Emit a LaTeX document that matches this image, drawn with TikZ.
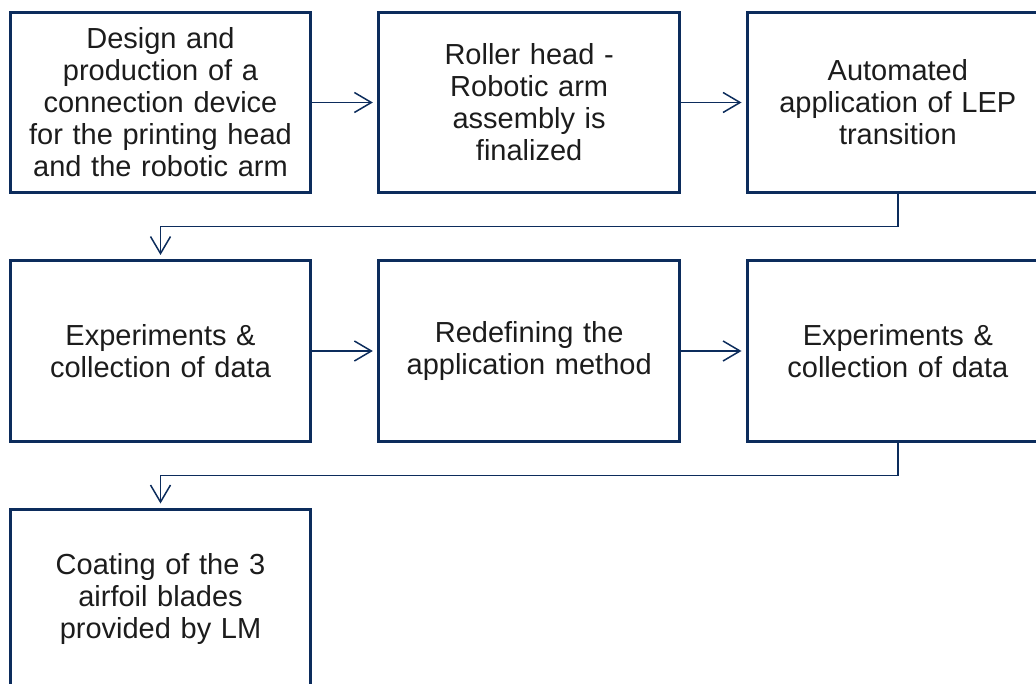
\documentclass[tikz,border=0pt]{standalone}
\usepackage{fontspec}
\setmainfont{Liberation Sans}
\usetikzlibrary{shapes,arrows,arrows.meta,positioning,calc}
\definecolor{navy}{RGB}{12,44,92}
\definecolor{ink}{RGB}{28,28,28}
\begin{document}
\begin{tikzpicture}
\tikzstyle{stepbox}=[draw=navy,line width=3pt,outer sep=0pt,minimum width=300pt,minimum height=180pt,text width=294pt,align=center,text=ink,font=\fontsize{29}{32}\selectfont]
\tikzstyle{flow}=[draw=navy,line width=1.5pt,-{Straight Barb[length=17pt,width=20pt,line width=1.5pt]},shorten >=6pt]

\useasboundingbox (0,0) rectangle (1036pt,-684pt);

\node [stepbox] (design) at (160.5pt,-102.5pt) {Design and\\production of a\\connection device\\for the printing head\\and the robotic arm};
\node [stepbox, right=68pt of design] (roller) {Roller head -\\Robotic arm\\assembly is\\finalized};
\node [stepbox, right=68pt of roller] (auto) {Automated\\application of LEP\\transition};

\node [stepbox, below=68.5pt of design] (exp1) {Experiments \&\\collection of data};
\node [stepbox, right=68pt of exp1] (redef) {Redefining the\\application method};
\node [stepbox, right=68pt of redef] (exp2) {Experiments \&\\collection of data};

\node [stepbox, below=68.5pt of exp1] (coat) {Coating of the 3\\airfoil blades\\provided by LM};

\draw [flow] (design.east) -- (roller.west);
\draw [flow] (roller.east) -- (auto.west);
\draw [flow] (auto.south) |- ($(auto.south)!0.5!(exp1.north)$) -| (exp1.north);
\draw [flow] (exp1.east) -- (redef.west);
\draw [flow] (redef.east) -- (exp2.west);
\draw [flow] (exp2.south) |- ($(exp2.south)!0.5!(coat.north)$) -| (coat.north);
\end{tikzpicture}
\end{document}
